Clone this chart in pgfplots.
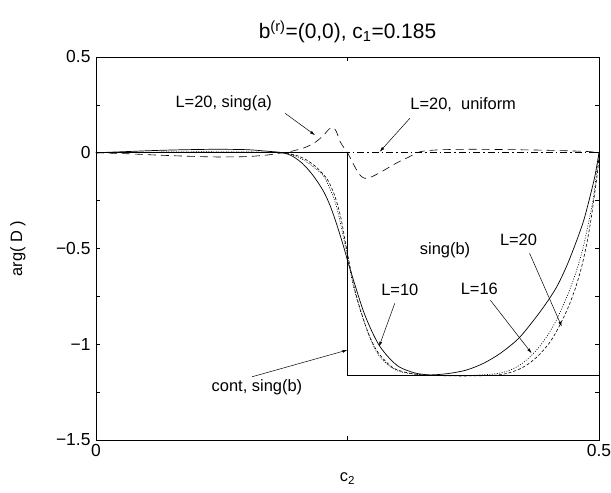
\documentclass[border=0pt]{standalone}
\usepackage{pgfplots}
\pgfplotsset{compat=1.18}
\usepackage{fontspec}
\setmainfont{Liberation Sans}
\usetikzlibrary{arrows.meta}

\begin{document}
\begin{tikzpicture}[font=\fontsize{16.5}{19}\selectfont,
    ann/.style={-{Latex[length=5bp,width=3bp]}, line width=0.5bp}]
\begin{axis}[
    scale only axis,
    width=503bp, height=383bp,
    at={(0,0)}, anchor=south west,
    xmin=0, xmax=0.5,
    ymin=-1.5, ymax=0.5,
    xtick={0,0.5}, xticklabels={0,0.5},
    minor xtick={0.25},
    ytick={-1.5,-1,-0.5,0,0.5},
    yticklabels={−1.5,−1,−0.5,0,0.5},
    minor ytick={-1.25,-0.75,-0.25,0.25},
    tick align=inside,
    major tick length=4bp, minor tick length=4bp,
    tick style={line width=0.5bp, black},
    axis line style={line width=0.8bp},
    ticklabel style={font=\fontsize{17.5}{20}\selectfont},
    xticklabel style={yshift=-1bp},
    yticklabel style={xshift=-2bp},
    title={b\textsuperscript{(r)}=(0,0), c\textsubscript{1}=0.185},
    title style={font=\fontsize{21}{24}\selectfont, at={(axis description cs:0.5,1.05)}, anchor=center},
    xlabel={c\textsubscript{2}},
    xlabel style={at={(axis description cs:0.5,-0.1)}, anchor=center},
    clip=false,
]
% step function: cont, sing(b)
\addplot[black, line width=0.7bp] coordinates {
    (0,0) (0.25,0) (0.25,-1.164) (0.5,-1.164)
};
% uniform L=20
\addplot[black, line width=0.6bp, dash pattern=on 7bp off 3bp on 1.5bp off 3bp] coordinates {
    (0,0) (0.5,0)
};
% L=10 sing(b)
\addplot[black, line width=0.7bp, smooth] coordinates {
    (0,0) (0.03,0.006) (0.06,0.012) (0.09,0.016) (0.12,0.018) (0.15,0.016)
    (0.17,0.008) (0.186,0) (0.196,-0.02) (0.206,-0.06) (0.216,-0.12)
    (0.226,-0.2) (0.233,-0.28) (0.239,-0.37) (0.245,-0.47) (0.251,-0.58)
    (0.258,-0.70) (0.266,-0.83) (0.274,-0.93) (0.282,-1.01) (0.292,-1.075)
    (0.302,-1.12) (0.317,-1.15) (0.332,-1.16) (0.35,-1.153) (0.368,-1.135)
    (0.385,-1.10) (0.402,-1.047) (0.42,-0.97) (0.435,-0.875) (0.447,-0.79)
    (0.458,-0.70) (0.468,-0.59) (0.478,-0.456) (0.485,-0.35) (0.491,-0.23)
    (0.496,-0.12) (0.5,0)
};
% L=16 sing(b)
\addplot[black, line width=0.6bp, dash pattern=on 1bp off 1.5bp, smooth] coordinates {
    (0,0) (0.05,0.003) (0.1,0.005) (0.15,0.004) (0.18,0.001) (0.19,-0.005)
    (0.2,-0.02) (0.21,-0.05) (0.22,-0.09) (0.226,-0.12) (0.232,-0.18)
    (0.239,-0.28) (0.246,-0.44) (0.251,-0.57) (0.256,-0.70) (0.262,-0.81)
    (0.269,-0.92) (0.276,-1.01) (0.282,-1.065) (0.292,-1.115) (0.302,-1.143)
    (0.32,-1.158) (0.34,-1.163) (0.37,-1.163) (0.39,-1.158) (0.40,-1.152)
    (0.41,-1.138) (0.42,-1.113) (0.43,-1.073) (0.44,-1.018) (0.45,-0.945)
    (0.458,-0.87) (0.465,-0.79) (0.472,-0.70) (0.478,-0.61) (0.484,-0.5)
    (0.489,-0.38) (0.494,-0.25) (0.497,-0.13) (0.5,0)
};
% L=20 sing(b)
\addplot[black, line width=0.6bp, dash pattern=on 3bp off 2bp, smooth] coordinates {
    (0,0) (0.05,0.002) (0.1,0.003) (0.15,0.003) (0.18,0.001) (0.19,-0.004)
    (0.2,-0.015) (0.21,-0.04) (0.22,-0.08) (0.23,-0.14) (0.237,-0.22)
    (0.243,-0.33) (0.248,-0.47) (0.252,-0.58) (0.257,-0.71) (0.264,-0.84)
    (0.272,-0.96) (0.28,-1.04) (0.29,-1.1) (0.3,-1.135) (0.32,-1.158)
    (0.35,-1.165) (0.38,-1.165) (0.40,-1.16) (0.41,-1.15) (0.42,-1.132)
    (0.43,-1.102) (0.44,-1.058) (0.45,-0.998) (0.457,-0.94) (0.463,-0.88)
    (0.47,-0.8) (0.477,-0.7) (0.483,-0.59) (0.488,-0.47) (0.492,-0.35)
    (0.496,-0.2) (0.499,-0.08) (0.5,0)
};
% L=20 sing(a)
\addplot[black, line width=0.6bp, dash pattern=on 8bp off 5bp, smooth] coordinates {
    (0,0) (0.03,-0.005) (0.06,-0.012) (0.09,-0.018) (0.12,-0.022) (0.15,-0.02)
    (0.17,-0.012) (0.18,-0.004) (0.19,0.003) (0.2,0.015) (0.209,0.03)
    (0.218,0.055) (0.226,0.09) (0.232,0.125) (0.236,0.13) (0.239,0.11)
    (0.2425,0.06) (0.246,0.03) (0.25,0) (0.255,-0.05) (0.259,-0.09)
    (0.263,-0.12) (0.267,-0.133) (0.272,-0.13) (0.28,-0.11) (0.29,-0.08)
    (0.3,-0.05) (0.31,-0.025) (0.322,0.005) (0.34,0.015) (0.37,0.018)
    (0.4,0.017) (0.44,0.014) (0.47,0.01) (0.49,0.006) (0.5,0)
};
% annotations
\node at (axis cs:0.127,0.26) {L=20, sing(a)};
\draw[ann] (axis cs:0.188,0.206) -- (axis cs:0.2177,0.092);
\node at (axis cs:0.365,0.25) {L=20,\ \ uniform};
\draw[ann] (axis cs:0.312,0.18) -- (axis cs:0.282,0.005);
\node at (axis cs:0.347,-0.508) {sing(b)};
\node at (axis cs:0.42,-0.456) {L=20};
\draw[ann] (axis cs:0.431,-0.525) -- (axis cs:0.463,-0.908);
\node at (axis cs:0.302,-0.717) {L=10};
\draw[ann] (axis cs:0.297,-0.786) -- (axis cs:0.2813,-1.013);
\node at (axis cs:0.381,-0.71) {L=16};
\draw[ann] (axis cs:0.392,-0.77) -- (axis cs:0.433,-1.047);
\node at (axis cs:0.16,-1.225) {cont, sing(b)};
\draw[ann] (axis cs:0.155,-1.17) -- (axis cs:0.25,-1.03);
\end{axis}
\node[rotate=90] at (-78bp,191.5bp) {arg( D )};
\pgfresetboundingbox
\path[use as bounding box] (-96bp,-53bp) rectangle (515bp,440bp);
\end{tikzpicture}
\end{document}
